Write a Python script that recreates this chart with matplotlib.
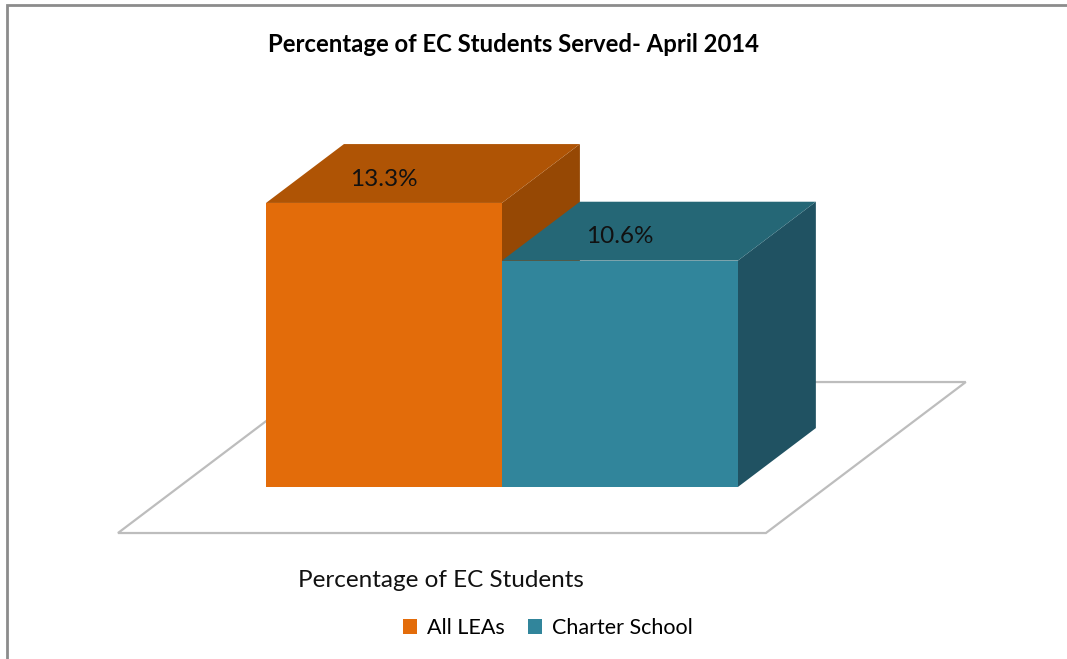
import matplotlib.pyplot as plt
from matplotlib.patches import Polygon, Patch, Rectangle

series = ["All LEAs", "Charter School"]
values = [13.3, 10.6]
value_labels = ["13.3%", "10.6%"]
category = "Percentage of EC Students"
title = "Percentage of EC Students Served- April 2014"

front_colors = ["#E36C0A", "#31859B"]
top_colors = ["#AF5405", "#256776"]
side_colors = ["#964804", "#205262"]

plt.rcParams["font.family"] = ["Lato", "DejaVu Sans"]

# oblique 3d look: depth z runs 0..1 across the floor
kx, ky = 0.847, 7.07
z0, z1 = 0.305, 0.695


def proj(x, v, z):
    return (x + z * kx, v + z * ky)


fig = plt.figure(figsize=(10.67, 6.59), dpi=100)
ax = fig.add_axes([0, 0, 1, 1])
ax.set_xlim(-0.869, 3.653)
ax.set_ylim(-5.90, 24.96)
ax.axis("off")

# floor
fx0, fx1 = -0.369, len(values) + 0.377
floor = [proj(fx0, 0, 0), proj(fx1, 0, 0), proj(fx1, 0, 1), proj(fx0, 0, 1)]
ax.add_patch(Polygon(floor, closed=True, facecolor="white",
                     edgecolor="#BDBDBD", lw=1.6, zorder=1))

for i, h in enumerate(values):
    x0, x1 = i, i + 1
    front = [proj(x0, 0, z0), proj(x1, 0, z0), proj(x1, h, z0), proj(x0, h, z0)]
    top = [proj(x0, h, z0), proj(x1, h, z0), proj(x1, h, z1), proj(x0, h, z1)]
    side = [proj(x1, 0, z0), proj(x1, 0, z1), proj(x1, h, z1), proj(x1, h, z0)]
    zo = 2 + i
    ax.add_patch(Polygon(side, closed=True, facecolor=side_colors[i], lw=0, zorder=zo))
    ax.add_patch(Polygon(top, closed=True, facecolor=top_colors[i], lw=0, zorder=zo))
    ax.add_patch(Polygon(front, closed=True, facecolor=front_colors[i], lw=0, zorder=zo))
    ax.annotate(value_labels[i], xy=proj(i + 0.5, h, z0), xytext=(0, 17),
                textcoords="offset points", ha="center", va="center",
                fontsize=17.5, color="#111111", zorder=10)

cx, cy = proj(len(values) / 2, 0, 0)
ax.annotate(category, xy=(cx, cy), xytext=(0, -34), textcoords="offset points",
            ha="center", va="center", fontsize=17.5, color="#111111")

fig.text(514 / 1067, 1 - 44 / 659, title, ha="center", va="center",
         fontsize=17.2, fontweight="bold", color="black")

handles = [Patch(facecolor=c, edgecolor="none") for c in front_colors]
fig.legend(handles, series, loc="center", bbox_to_anchor=(548 / 1067, 1 - 628 / 659),
           ncol=2, frameon=False, fontsize=15.5, handlelength=0.65, handleheight=0.65,
           handletextpad=0.45, columnspacing=1.1)

# chart border
fig.patches.append(Rectangle((7 / 1067, -0.05), 1.2, 1.05 - 5 / 659, transform=fig.transFigure,
                             fill=False, edgecolor="#8C8C8C", lw=2, clip_on=False))

plt.savefig("out.png", dpi=100)
